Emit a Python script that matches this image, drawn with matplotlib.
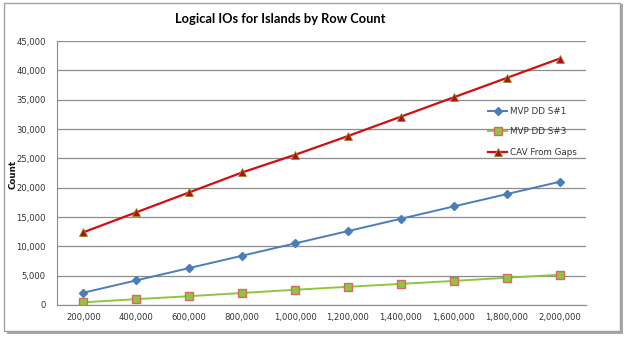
import matplotlib
matplotlib.use("Agg")
import matplotlib.pyplot as plt
from matplotlib.patches import Rectangle
import numpy as np

categories = ["200,000", "400,000", "600,000", "800,000", "1,000,000",
              "1,200,000", "1,400,000", "1,600,000", "1,800,000", "2,000,000"]
mvp1 = [2100, 4200, 6300, 8400, 10500, 12600, 14700, 16800, 18900, 21000]
mvp3 = [450, 1000, 1500, 2050, 2600, 3100, 3600, 4100, 4650, 5150]
cav = [12400, 15800, 19200, 22600, 25600, 28800, 32100, 35400, 38700, 42000]
yticks = [0, 5000, 10000, 15000, 20000, 25000, 30000, 35000, 40000, 45000]

W, H = 630, 341
fig = plt.figure(figsize=(W / 100, H / 100), dpi=100)
fig.patch.set_facecolor("white")

# frame with shadow
fig.patches.append(Rectangle((7 / W, 1 - 334 / H), 616 / W, 330 / H, transform=fig.transFigure,
                             facecolor="#a8a8a8", edgecolor="none", zorder=0))
fig.patches.append(Rectangle((4 / W, 1 - 331 / H), 616 / W, 328 / H, transform=fig.transFigure,
                             facecolor="white", edgecolor="#a0a0a0", linewidth=1.0, zorder=1))

ax = fig.add_axes([57 / W, 1 - 305 / H, (586 - 57) / W, (305 - 41) / H])
ax.set_zorder(2)
ax.set_facecolor("none")
x = np.arange(len(categories))

ax.plot(x, mvp1, color="#4a7ebb", lw=1.4, marker="D", ms=4,
        mfc="#4a7ebb", mec="#4a7ebb", label="MVP DD S#1")
ax.plot(x, mvp3, color="#8fc640", lw=1.4, marker="s", ms=5.5,
        mfc="#8fc640", mec="#e06666", mew=1.0, label="MVP DD S#3")
ax.plot(x, cav, color="#d01010", lw=1.6, marker="^", ms=5.5,
        mfc="#b01010", mec="#9a8a30", mew=0.6, label="CAV From Gaps")

ax.set_xlim(-0.5, len(categories) - 0.5)
ax.set_ylim(0, 45000)
ax.set_xticks(x)
ax.set_xticklabels(categories)
ax.set_yticks(yticks)
ax.set_yticklabels([f"{v:,}" for v in yticks])
ax.tick_params(axis="both", length=0, labelsize=6.1, colors="#333333")
ax.tick_params(axis="x", pad=6)
ax.tick_params(axis="y", pad=8)
ax.grid(axis="y", color="#8c8c8c", lw=0.9)
ax.set_axisbelow(True)
for s in ["top", "right"]:
    ax.spines[s].set_visible(False)
ax.spines["left"].set_color("#8c8c8c")
ax.spines["bottom"].set_color("#8c8c8c")

fig.text(13 / W, 1 - 174 / H, "Count", rotation=90, ha="center", va="center",
         fontsize=6.3, fontweight="bold", color="#111111")

leg = ax.legend(loc="upper left", bbox_to_anchor=(0.8, 0.78), frameon=False,
                fontsize=6.3, handlelength=2.2, labelspacing=1.3, handletextpad=0.3)
for t in leg.get_texts():
    t.set_color("#333333")

fig.text(280 / W, 1 - 19 / H, "Logical IOs for Islands by Row Count",
         ha="center", va="center", fontsize=9.3, fontweight="bold", family="Lato")

fig.savefig("out.png", dpi=100)
